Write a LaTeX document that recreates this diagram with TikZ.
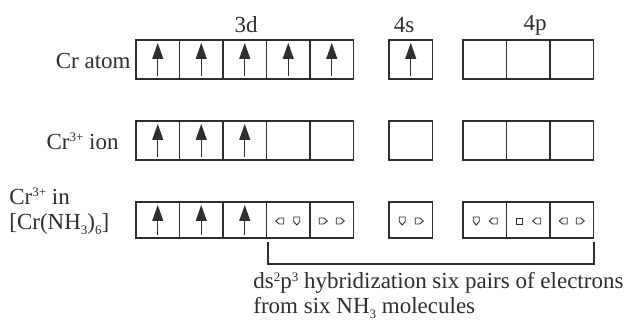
\documentclass[tikz,border=0pt]{standalone}
\usepackage{fontspec}
\setmainfont{Liberation Serif}
\usetikzlibrary{arrows.meta}
\definecolor{ink}{HTML}{2E2E2E}
\newcommand\sups[1]{\raisebox{0.75ex}{\fontsize{6.5}{7}\selectfont #1}}
\newcommand\subs[1]{\raisebox{-0.45ex}{\fontsize{6.5}{7}\selectfont #1}}
\tikzset{
  orb/.style={draw=ink, line width=0.8pt, minimum width=21.75pt, minimum height=19.5pt, inner sep=0pt, outer sep=0pt},
  spin/.style={draw=ink, line width=0.55pt, -{Triangle[length=8pt,width=5.5pt]}, shorten <=1.5pt, shorten >=1.5pt},
  lbl/.style={text=ink, font=\fontsize{11.5}{12.5}\selectfont, inner sep=0pt},
  ep/.pic={\draw[ink, line width=0.45pt] (-4,-3) -- (0.5,-3) -- (4,0) -- (0.5,3) -- (-4,3) -- cycle;},
  sq/.pic={\draw[ink, line width=0.45pt] (-3,-3) rectangle (3,3);}
}
\newcommand\lonepair[3]{%
  \pic[rotate=#2] at ([shift={(-4.25pt,-0.5pt)}]#1.center) {ep};
  \pic[rotate=#3] at ([shift={(4.25pt,-0.5pt)}]#1.center) {ep};}
\begin{document}
\begin{tikzpicture}[x=0.5pt,y=-0.5pt]
\useasboundingbox (0,0) rectangle (640,324);
% orbital boxes, one row per species
\foreach \i/\x in {1/157.75,2/201.25,3/244.75,4/288.25,5/331.75,6/410.75,7/484.75,8/528.25,9/571.75}{
  \node[orb] (a\i) at (\x,59.5) {};
  \node[orb] (b\i) at (\x,140.5) {};
  \node[orb, minimum height=18pt] (c\i) at (\x,220) {};
}
\node[lbl] (l3d) at (246,25) {3d};
\node[lbl] (l4s) at (404,25) {4s};
\node[lbl] (l4p) at (535,25) {4p};
\node[lbl, anchor=east] (atom) at (131,61) {Cr atom};
\node[lbl, anchor=east] (ion) at (119,141) {Cr\sups{3+} ion};
\node[lbl, anchor=west, align=left] (cplx) at (9,211) {Cr\sups{3+} in\\{}[Cr(NH\subs{3})\subs{6}]};
% unpaired electrons
\foreach \i in {1,...,6} \draw[spin] (a\i.south) -- (a\i.north);
\foreach \i in {1,...,3} \draw[spin] (b\i.south) -- (b\i.north);
\foreach \i in {1,...,3} \draw[spin] (c\i.south) -- (c\i.north);
% electron pairs from NH3
\lonepair{c4}{180}{-90}
\lonepair{c5}{0}{0}
\lonepair{c6}{-90}{0}
\lonepair{c7}{-90}{180}
\pic at ([shift={(-4.25pt,-0.5pt)}]c8.center) {sq};
\pic[rotate=180] at ([shift={(4.25pt,-0.5pt)}]c8.center) {ep};
\lonepair{c9}{180}{0}
% bracket
\coordinate (bl) at (268,242);
\coordinate (br) at (594,242);
\draw[ink, line width=0.55pt] (bl) -- ++(0,22) -| (br);
\node[lbl, anchor=north west, align=left] (hyb) at (253,272) {ds\sups{2}p\sups{3} hybridization six pairs of electrons\\from six NH\subs{3} molecules};
\end{tikzpicture}
\end{document}
